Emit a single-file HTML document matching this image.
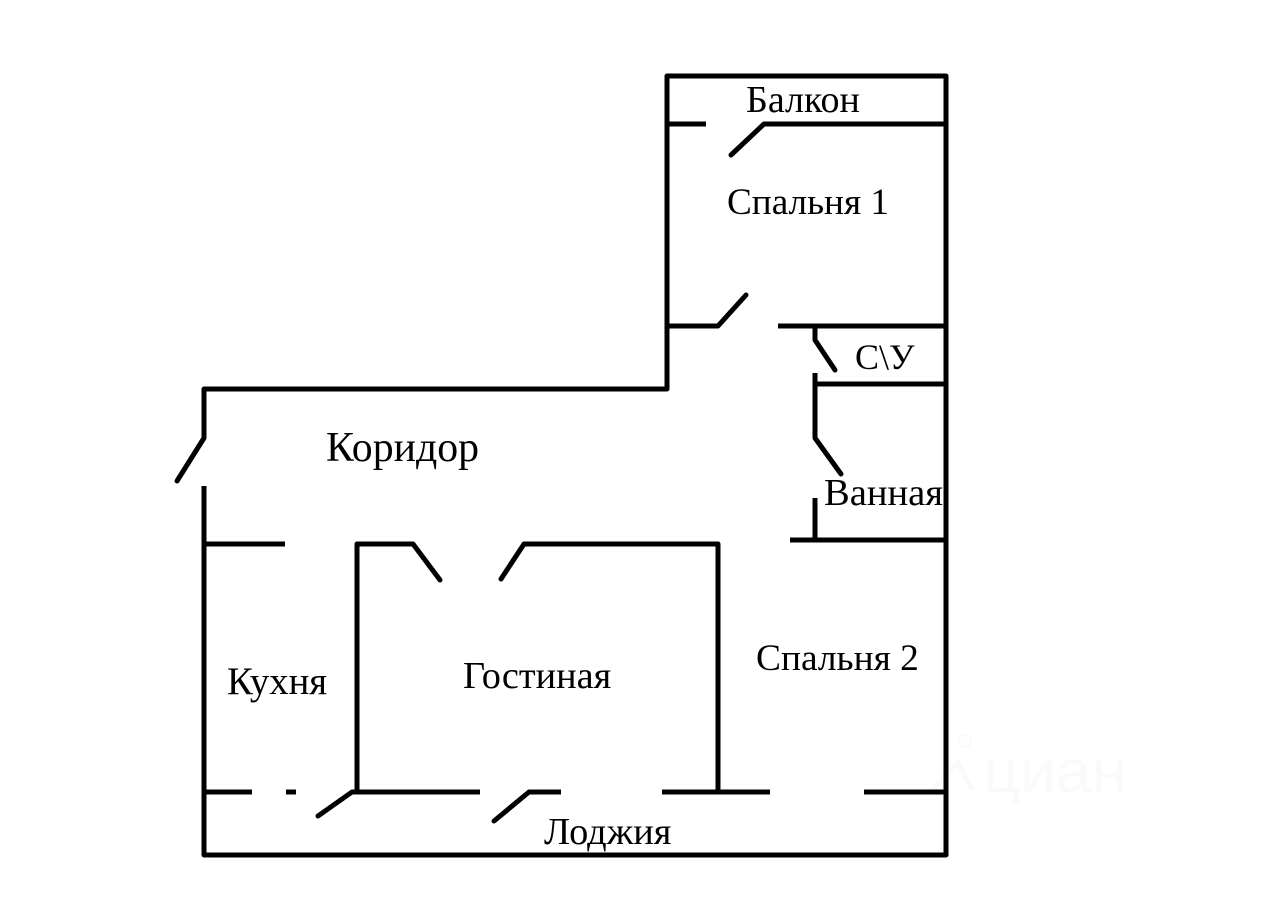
<!DOCTYPE html>
<html><head><meta charset="utf-8"><style>html,body{margin:0;padding:0;background:#fff}svg{display:block}text{font-family:"Liberation Serif",serif;fill:#000}</style></head><body>
<svg width="1280" height="905" viewBox="0 0 1280 905" xmlns="http://www.w3.org/2000/svg">
<g fill="none" stroke="#fafafa" stroke-width="5">
<path d="M932 790L958 762L972 790" stroke-linejoin="round"/>
<circle cx="965" cy="741" r="6" stroke-width="2"/>
</g>
<text x="983" y="792" font-size="60" textLength="144" lengthAdjust="spacingAndGlyphs" style="font-family:'Liberation Sans',sans-serif;fill:#fafafa">циан</text>
<g stroke="#000" stroke-width="5" fill="none" stroke-linecap="butt" stroke-linejoin="round">
<path d="M667 124V76H946V855H204V792"/>
<path d="M667 124V389H204V438"/>
<path d="M204 486V792"/>
<path d="M667 124H706"/>
<path d="M764 124H946"/>
<path d="M667 326H718"/>
<path d="M778 326H946"/>
<path d="M815 326V340"/>
<path d="M815 373V438"/>
<path d="M815 384H946"/>
<path d="M815 498V540"/>
<path d="M790 540H946"/>
<path d="M204 544H285"/>
<path d="M357 792V544H413"/>
<path d="M524 544H718V792"/>
<path d="M204 792H252"/>
<path d="M286 792H296"/>
<path d="M352 792H480"/>
<path d="M529 792H561"/>
<path d="M662 792H770"/>
<path d="M864 792H946"/>
</g>
<g stroke="#000" stroke-width="5" fill="none" stroke-linecap="round" stroke-linejoin="round">
<path d="M204 438L177 481"/>
<path d="M731 155L764 124"/>
<path d="M718 326L746 295"/>
<path d="M815 340L835 370"/>
<path d="M815 438L841 474"/>
<path d="M413 544L440 580"/>
<path d="M501 579L524 544"/>
<path d="M318 816L352 792"/>
<path d="M494 821L529 792"/>
</g>
<text x="746" y="112" font-size="38">Балкон</text>
<text x="727" y="214" font-size="37.2">Спальня 1</text>
<text x="855" y="369" font-size="36">С\У</text>
<text x="326" y="461" font-size="41.8">Коридор</text>
<text x="824" y="505" font-size="38.6">Ванная</text>
<text x="756" y="670" font-size="37.4">Спальня 2</text>
<text x="463" y="688" font-size="38.3">Гостиная</text>
<text x="227" y="694" font-size="38.7">Кухня</text>
<text x="544" y="844" font-size="38.4">Лоджия</text>
</svg>
</body></html>
